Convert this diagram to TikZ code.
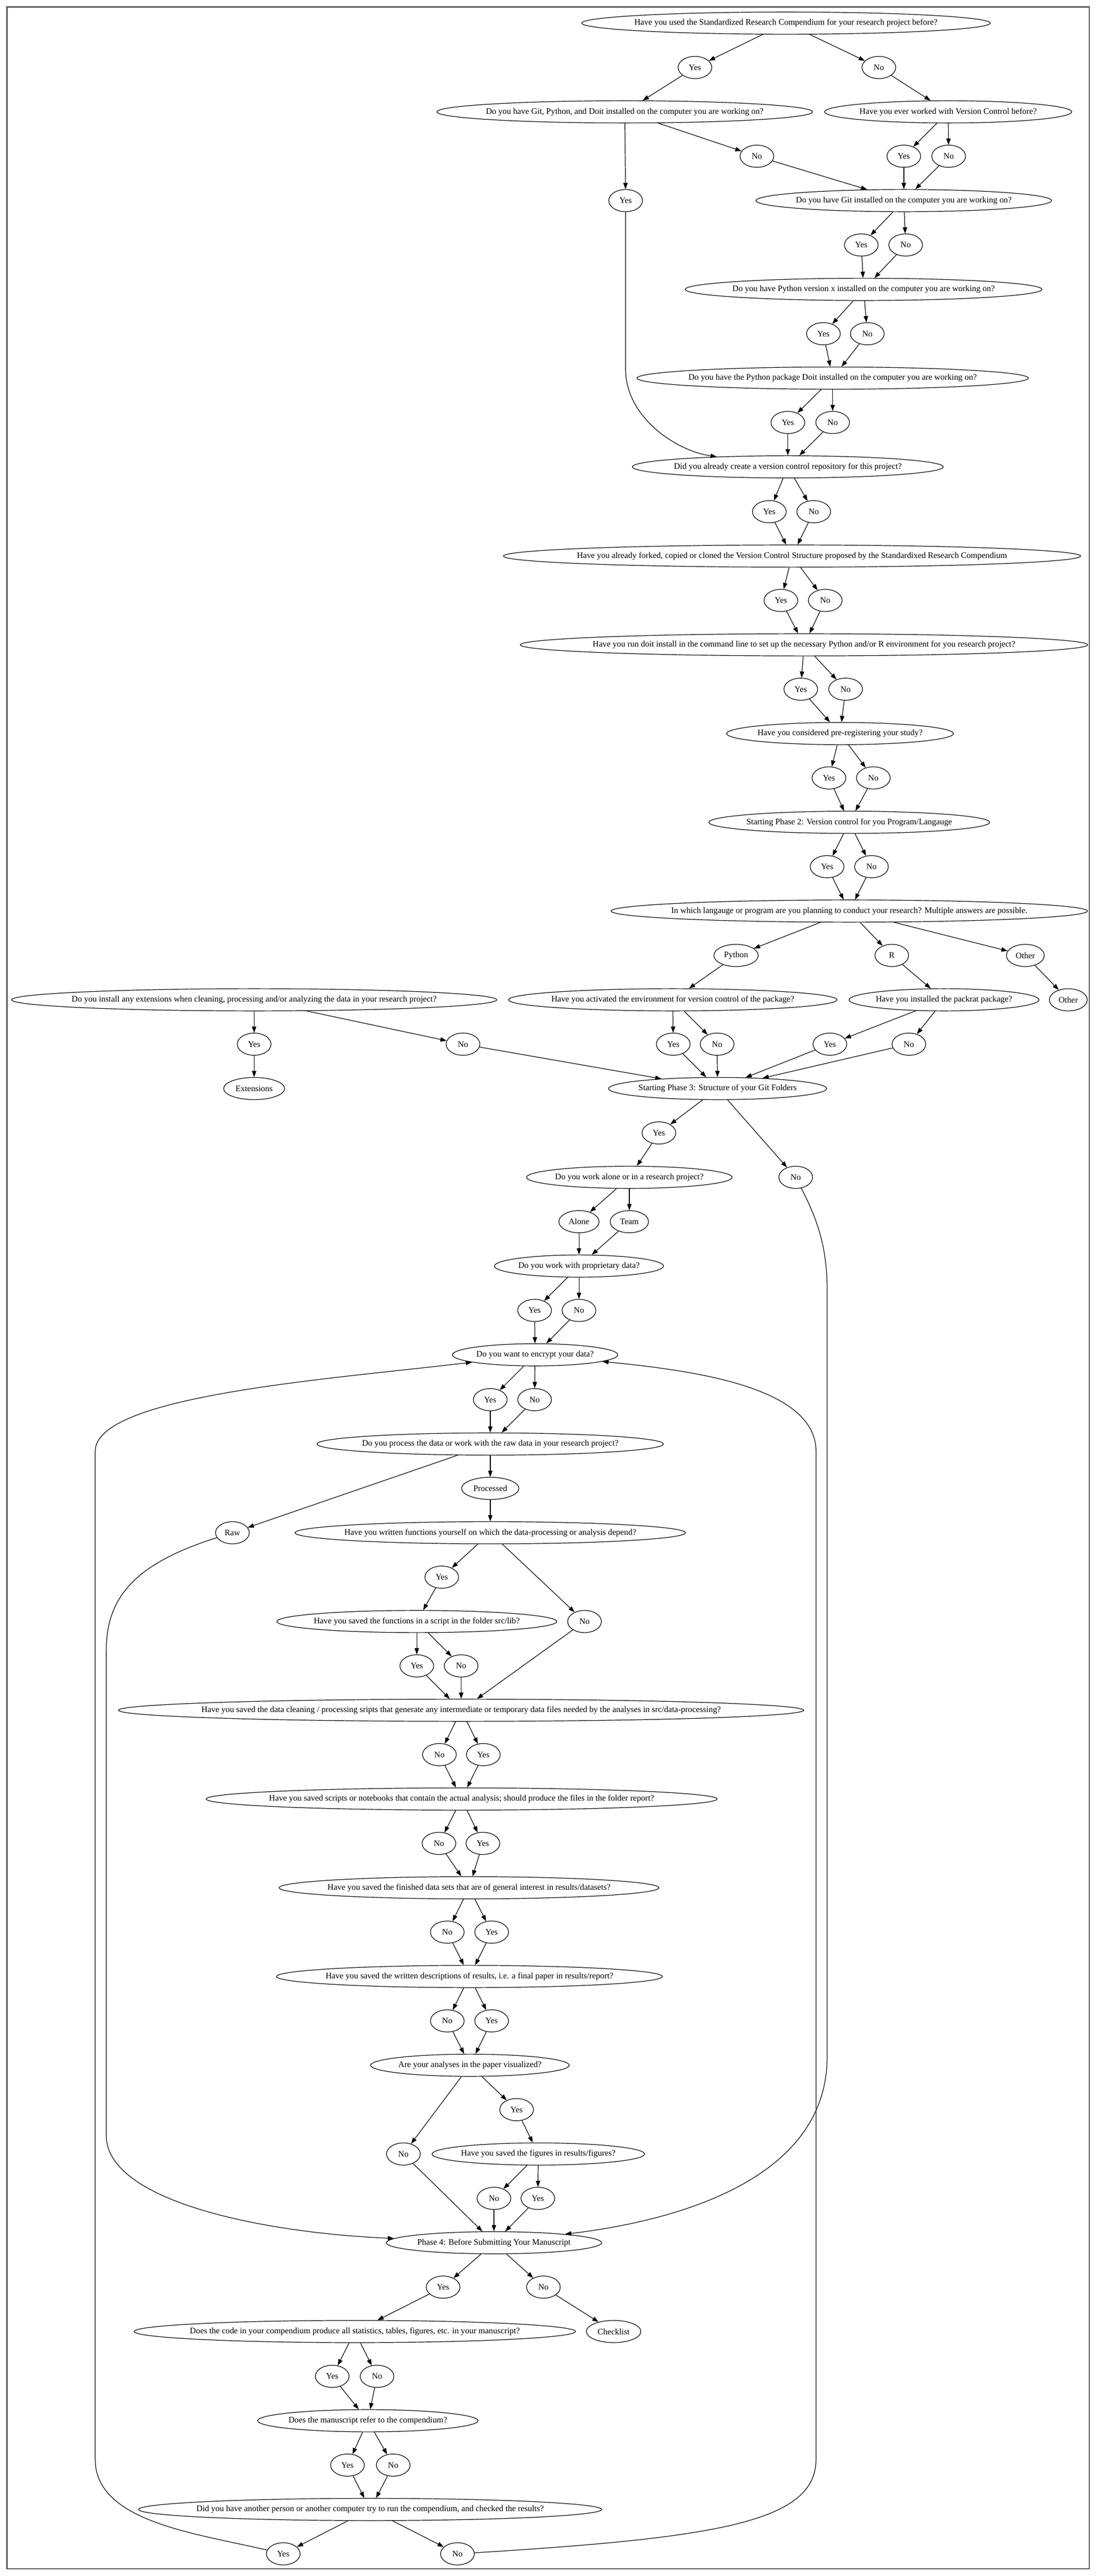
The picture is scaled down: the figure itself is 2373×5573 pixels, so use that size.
\documentclass[tikz,border=0pt]{standalone}
\usepackage{fontspec}
\setmainfont{Liberation Serif}
\usetikzlibrary{shapes.geometric,arrows.meta}
\newcommand{\T}[1]{\makebox[0pt]{#1}}
\begin{document}
\begin{tikzpicture}[x=1pt,y=-1pt,
  every node/.style={font=\fontsize{18.3}{22}\selectfont},
  nd/.style={ellipse, draw, line width=1.35pt, inner sep=0pt, minimum height=48, minimum width=#1},
  nd/.default=73,
  arr/.style={draw, line width=1.35pt, -{Triangle[length=13.5pt,width=9.5pt]}}]
\useasboundingbox (0,0) rectangle (2373,5573);
\draw[line width=2.5pt, black!65] (15,15) rectangle (2357,5557);
% rank 0-4
\node[nd=884] (Q1) at (1701,50) {\T{Have you used the Standardized Research Compendium for your research project before?}};
\node[nd] (Yes1) at (1504,146) {\T{Yes}};
\node[nd] (No1) at (1902,146) {\T{No}};
\node[nd=813] (Q2) at (1352,242) {\T{Do you have Git, Python, and Doit installed on the computer you are working on?}};
\node[nd=535] (Q3) at (2052,242) {\T{Have you ever worked with Version Control before?}};
\node[nd] (No2) at (1638,338) {\T{No}};
\node[nd] (Yes3) at (1956,338) {\T{Yes}};
\node[nd] (No3) at (2053,338) {\T{No}};
\node[nd] (Yes2) at (1354,434) {\T{Yes}};
\node[nd=640] (Q4) at (1956,434) {\T{Do you have Git installed on the computer you are working on?}};
\node[nd] (Yes4) at (1864,530) {\T{Yes}};
\node[nd] (No4) at (1960,530) {\T{No}};
\node[nd=772] (Q5) at (1869,626) {\T{Do you have Python version x installed on the computer you are working on?}};
\node[nd] (Yes5) at (1782,722) {\T{Yes}};
\node[nd] (No5) at (1877,722) {\T{No}};
\node[nd=847] (Q6) at (1802,818) {\T{Do you have the Python package Doit installed on the computer you are working on?}};
\node[nd] (Yes6) at (1705,914) {\T{Yes}};
\node[nd] (No6) at (1802,914) {\T{No}};
\node[nd=673] (Q7) at (1705,1010) {\T{Did you already create a version control repository for this project?}};
\node[nd] (Yes7) at (1665,1107) {\T{Yes}};
\node[nd] (No7) at (1761,1107) {\T{No}};
\node[nd=1249] (Q8) at (1714,1203) {\T{Have you already forked, copied or cloned the Version Control Structure proposed by the Standardixed Research Compendium}};
\node[nd] (Yes8) at (1690,1299) {\T{Yes}};
\node[nd] (No8) at (1786,1299) {\T{No}};
\node[nd=1228] (Q9) at (1740,1395) {\T{Have you run doit install in the command line to set up the necessary Python and/or R environment for you research project?}};
\node[nd] (Yes9) at (1733,1491) {\T{Yes}};
\node[nd] (No9) at (1830,1491) {\T{No}};
\node[nd=491] (Q10) at (1818,1587) {\T{Have you considered pre-registering your study?}};
\node[nd] (Yes10) at (1794,1683) {\T{Yes}};
\node[nd] (No10) at (1890,1683) {\T{No}};
\node[nd=608] (Q11) at (1838,1779) {\T{Starting Phase 2: Version control for you Program/Langauge}};
\node[nd] (Yes11) at (1790,1875) {\T{Yes}};
\node[nd] (No11) at (1886,1875) {\T{No}};
\node[nd=1031] (Q12) at (1838,1971) {\T{In which langauge or program are you planning to conduct your research? Multiple answers are possible.}};
\node[nd=96] (Python) at (1593,2067) {\T{Python}};
\node[nd] (R) at (1930,2067) {\T{R}};
\node[nd=82] (Other1) at (2219,2067) {\T{Other}};
\node[nd=1050] (Q16) at (550,2163) {\T{Do you install any extensions when cleaning, processing and/or analyzing the data in your research project?}};
\node[nd=711] (Q13) at (1456,2163) {\T{Have you activated the environment for version control of the package?}};
\node[nd=411] (Q14) at (2043,2163) {\T{Have you installed the packrat package?}};
\node[nd=82] (Other2) at (2312,2163) {\T{Other}};
\node[nd] (YesExt) at (550,2259) {\T{Yes}};
\node[nd] (NoExt) at (1002,2259) {\T{No}};
\node[nd] (Yes13) at (1457,2259) {\T{Yes}};
\node[nd] (No13) at (1552,2259) {\T{No}};
\node[nd] (Yes14) at (1796,2259) {\T{Yes}};
\node[nd] (No14) at (1967,2259) {\T{No}};
\node[nd=132] (Extensions) at (550,2355) {\T{Extensions}};
\node[nd=472] (Q15) at (1553,2355) {\T{Starting Phase 3: Structure of your Git Folders}};
\node[nd] (Yes15) at (1426,2451) {\T{Yes}};
\node[nd=445] (Q17) at (1362,2547) {\T{Do you work alone or in a research project?}};
\node[nd] (No15) at (1722,2547) {\T{No}};
\node[nd=87] (Alone) at (1253,2643) {\T{Alone}};
\node[nd=83] (Team) at (1362,2643) {\T{Team}};
\node[nd=366] (Q18) at (1253,2739) {\T{Do you work with proprietary data?}};
\node[nd] (Yes18) at (1157,2835) {\T{Yes}};
\node[nd] (No18) at (1253,2835) {\T{No}};
\node[nd=358] (Q19) at (1158,2931) {\T{Do you want to encrypt your data?}};
\node[nd] (Yes19) at (1061,3028) {\T{Yes}};
\node[nd] (No19) at (1157,3028) {\T{No}};
\node[nd=750] (Q20) at (1061,3124) {\T{Do you process the data or work with the raw data in your research project?}};
\node[nd=124] (Processed) at (1061,3220) {\T{Processed}};
\node[nd] (Raw) at (503,3316) {\T{Raw}};
\node[nd=845] (Q21) at (1061,3316) {\T{Have you written functions yourself on which the data-processing or analysis depend?}};
\node[nd] (Yes21) at (956,3412) {\T{Yes}};
\node[nd=606] (Q22) at (902,3508) {\T{Have you saved the functions in a script in the folder src/lib?}};
\node[nd] (No21) at (1265,3508) {\T{No}};
\node[nd] (Yes22) at (902,3604) {\T{Yes}};
\node[nd] (No22) at (998,3604) {\T{No}};
\node[nd=1483] (Q23) at (998,3700) {\T{Have you saved the data cleaning / processing sripts that generate any intermediate or temporary data files needed by the analyses in src/data-processing?}};
\node[nd] (No23) at (951,3796) {\T{No}};
\node[nd] (Yes23) at (1046,3796) {\T{Yes}};
\node[nd=1106] (Q24) at (999,3892) {\T{Have you saved scripts or notebooks that contain the actual analysis; should produce the files in the folder report?}};
\node[nd] (No24) at (950,3988) {\T{No}};
\node[nd] (Yes24) at (1045,3988) {\T{Yes}};
\node[nd=822] (Q25) at (1015,4084) {\T{Have you saved the finished data sets that are of general interest in results/datasets?}};
\node[nd] (No25) at (968,4180) {\T{No}};
\node[nd] (Yes25) at (1064,4180) {\T{Yes}};
\node[nd=835] (Q26) at (1016,4276) {\T{Have you saved the written descriptions of results, i.e. a final paper in results/report?}};
\node[nd] (No26) at (968,4372) {\T{No}};
\node[nd] (Yes26) at (1064,4372) {\T{Yes}};
\node[nd=430] (Q27) at (1017,4468) {\T{Are your analyses in the paper visualized?}};
\node[nd] (Yes27) at (1118,4564) {\T{Yes}};
\node[nd] (No27) at (873,4660) {\T{No}};
\node[nd=460] (Q28) at (1165,4660) {\T{Have you saved the figures in results/figures?}};
\node[nd] (No28) at (1069,4756) {\T{No}};
\node[nd] (Yes28) at (1164,4756) {\T{Yes}};
\node[nd=466] (Q30) at (1069,4852) {\T{Phase 4: Before Submitting Your Manuscript}};
\node[nd] (Yes30) at (959,4948) {\T{Yes}};
\node[nd] (No30) at (1176,4948) {\T{No}};
\node[nd=955] (Q31) at (768,5044) {\T{Does the code in your compendium produce all statistics, tables, figures, etc. in your manuscript?}};
\node[nd=118] (Checklist) at (1328,5044) {\T{Checklist}};
\node[nd] (Yes31) at (719,5141) {\T{Yes}};
\node[nd] (No31) at (816,5141) {\T{No}};
\node[nd=477] (Q32) at (796,5237) {\T{Does the manuscript refer to the compendium?}};
\node[nd] (Yes32) at (752,5333) {\T{Yes}};
\node[nd] (No32) at (851,5333) {\T{No}};
\node[nd=1002] (Q33) at (801,5429) {\T{Did you have another person or another computer try to run the compendium, and checked the results?}};
\node[nd] (YesF) at (613,5525) {\T{Yes}};
\node[nd] (NoF) at (990,5525) {\T{No}};
% straight edges
\foreach \a/\b in {Q1/Yes1,Q1/No1,Yes1/Q2,No1/Q3,Q2/Yes2,Q2/No2,Q3/Yes3,Q3/No3,
  No2/Q4,Yes3/Q4,No3/Q4,Q4/Yes4,Q4/No4,Yes4/Q5,No4/Q5,Q5/Yes5,Q5/No5,Yes5/Q6,No5/Q6,
  Q6/Yes6,Q6/No6,Yes6/Q7,No6/Q7,Q7/Yes7,Q7/No7,Yes7/Q8,No7/Q8,Q8/Yes8,Q8/No8,Yes8/Q9,No8/Q9,
  Q9/Yes9,Q9/No9,Yes9/Q10,No9/Q10,Q10/Yes10,Q10/No10,Yes10/Q11,No10/Q11,
  Q11/Yes11,Q11/No11,Yes11/Q12,No11/Q12,Q12/Python,Q12/R,Q12/Other1,
  Python/Q13,R/Q14,Other1/Other2,Q13/Yes13,Q13/No13,Q14/Yes14,Q14/No14,
  Yes13/Q15,No13/Q15,Yes14/Q15,No14/Q15,NoExt/Q15,Q16/YesExt,Q16/NoExt,YesExt/Extensions,
  Q15/Yes15,Q15/No15,Yes15/Q17,Q17/Alone,Q17/Team,Alone/Q18,Team/Q18,
  Q18/Yes18,Q18/No18,Yes18/Q19,No18/Q19,Q19/Yes19,Q19/No19,Yes19/Q20,No19/Q20,
  Q20/Raw,Q20/Processed,Processed/Q21,Q21/Yes21,Q21/No21,Yes21/Q22,Q22/Yes22,Q22/No22,
  Yes22/Q23,No22/Q23,No21/Q23,Q23/No23,Q23/Yes23,No23/Q24,Yes23/Q24,
  Q24/No24,Q24/Yes24,No24/Q25,Yes24/Q25,Q25/No25,Q25/Yes25,No25/Q26,Yes25/Q26,
  Q26/No26,Q26/Yes26,No26/Q27,Yes26/Q27,Q27/No27,Q27/Yes27,Yes27/Q28,Q28/No28,Q28/Yes28,
  No27/Q30,No28/Q30,Yes28/Q30,Q30/Yes30,Q30/No30,Yes30/Q31,No30/Checklist,
  Q31/Yes31,Q31/No31,Yes31/Q32,No31/Q32,Q32/Yes32,Q32/No32,Yes32/Q33,No32/Q33,
  Q33/YesF,Q33/NoF}
  \draw[arr] (\a) -- (\b);
% curved edges
\draw[arr] (Yes2) -- (1354,800) .. controls (1354,900) and (1460,975) .. (Q7);
\draw[arr] (No15) .. controls (1770,2640) and (1790,2700) .. (1790,2790) -- (1790,4450) .. controls (1790,4700) and (1500,4800) .. (Q30);
\draw[arr] (Raw) .. controls (300,3380) and (230,3450) .. (230,3570) -- (230,4620) .. controls (230,4760) and (560,4830) .. (Q30);
\draw[arr] (YesF) .. controls (420,5480) and (206,5455) .. (206,5320) -- (206,3140) .. controls (206,3020) and (700,2985) .. (Q19);
\draw[arr] (NoF) .. controls (1560,5490) and (1766,5455) .. (1766,5320) -- (1766,3140) .. controls (1766,3000) and (1500,2965) .. (Q19);
\end{tikzpicture}
\end{document}
